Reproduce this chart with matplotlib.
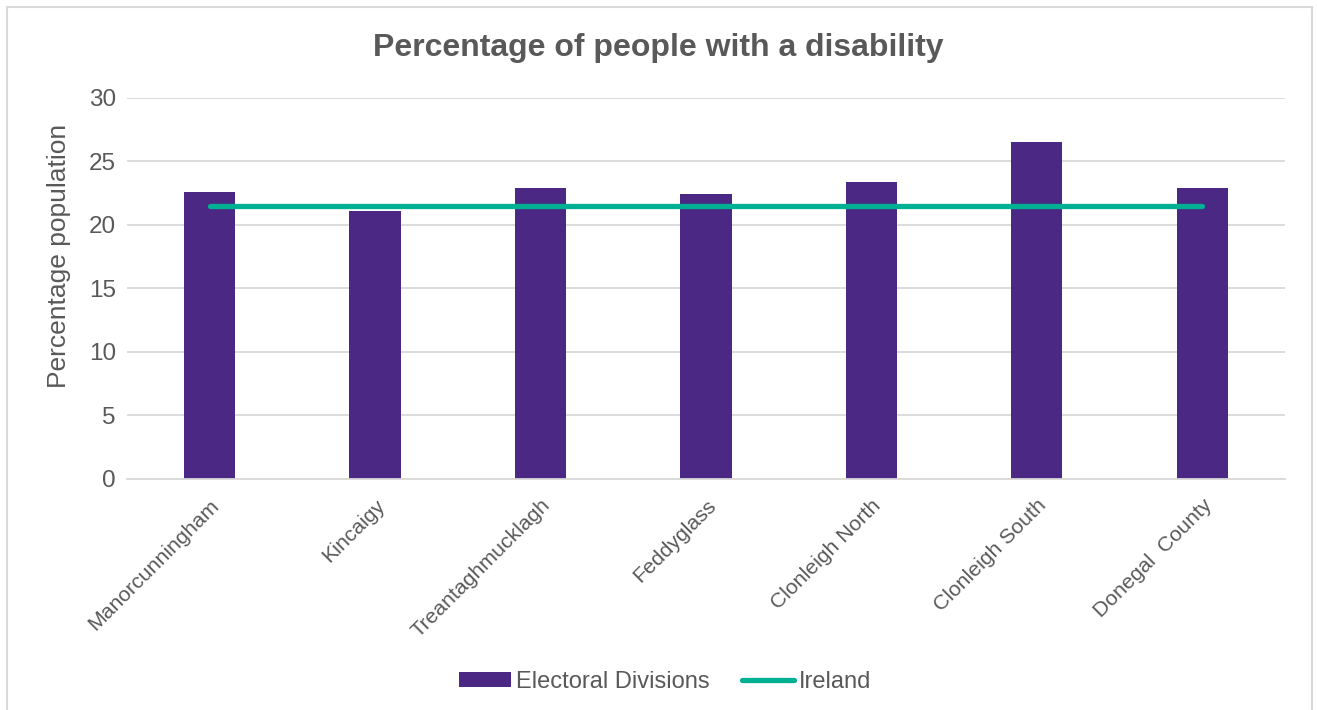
import matplotlib
matplotlib.use("Agg")
import matplotlib.pyplot as plt
from matplotlib.patches import Rectangle
from matplotlib.lines import Line2D
from matplotlib.patches import Patch

plt.rcParams["font.family"] = ["Liberation Sans", "DejaVu Sans"]

# Data
divisions = ["Manorcunningham", "Kincaigy", "Treantaghmucklagh", "Feddyglass",
             "Clonleigh North", "Clonleigh South", "Donegal  County"]
disability_pct = [22.6, 21.1, 22.9, 22.4, 23.4, 26.5, 22.9]
ireland_pct = [21.5] * len(divisions)

BAR_COLOR = "#4B2884"
LINE_COLOR = "#00B092"
TEXT_COLOR = "#595959"
GRID_COLOR = "#D9D9D9"

fig = plt.figure(figsize=(13.17, 7.10), dpi=100)
ax = fig.add_axes([0.0964, 0.3254, 0.8793, 0.5366])

x = range(len(divisions))
ax.bar(x, disability_pct, width=0.31, color=BAR_COLOR, zorder=2)
ax.plot(x, ireland_pct, color=LINE_COLOR, linewidth=3.8,
        solid_capstyle="round", zorder=3)

ax.set_xlim(-0.5, len(divisions) - 0.5)
ax.set_ylim(0, 30)
ax.set_yticks(range(0, 31, 5))
ax.grid(axis="y", color=GRID_COLOR, linewidth=1.3, zorder=0)
for side in ["top", "right", "left"]:
    ax.spines[side].set_visible(False)
ax.spines["bottom"].set_color(GRID_COLOR)
ax.spines["bottom"].set_linewidth(1.3)
ax.tick_params(axis="both", length=0, colors=TEXT_COLOR)
ax.tick_params(axis="y", pad=8, labelsize=17.5)
ax.tick_params(axis="x", pad=12)
ax.set_xticks(list(x))
ax.set_xticklabels(divisions, rotation=45, ha="right", rotation_mode="anchor",
                   fontsize=15.3, color=TEXT_COLOR)

ax.set_ylabel("Percentage population", fontsize=19, color=TEXT_COLOR)
ax.yaxis.set_label_coords(-0.048, 0.585)
fig.text(0.5, 0.932, "Percentage of people with a disability", ha="center",
         va="center", fontsize=23, fontweight="bold", color=TEXT_COLOR)

handles = [Patch(facecolor=BAR_COLOR, label="Electoral Divisions"),
           Line2D([0], [0], color=LINE_COLOR, linewidth=3.8,
                  solid_capstyle="round", label="Ireland")]
fig.legend(handles=handles, loc="center", bbox_to_anchor=(0.505, 0.04),
           ncol=2, frameon=False, fontsize=17, labelcolor=TEXT_COLOR,
           handlelength=2.2, handletextpad=0.2, columnspacing=1.4,
           handleheight=0.6)

# light outer border
fig.patches.append(Rectangle((0.005, -0.01), 0.991, 1.0, transform=fig.transFigure,
                             fill=False, edgecolor=GRID_COLOR, linewidth=1.5))

fig.savefig("out.png", dpi=100)
